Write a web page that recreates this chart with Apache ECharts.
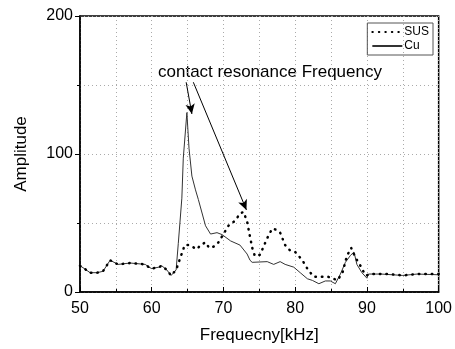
<!DOCTYPE html>
<html>
<head>
<meta charset="utf-8">
<script src="https://cdn.jsdelivr.net/npm/echarts@6/dist/echarts.min.js"></script>
<style>
  html, body { margin: 0; padding: 0; background: #fff; }
  #chart { width: 455px; height: 349px; }
</style>
</head>
<body>
<div id="chart"></div>
<script>
// Cu (solid)
const cuFreq = [50, 50.6, 51.4, 52.4, 53.2, 54.2, 55.3, 57, 59.1, 59.6, 60, 61, 61.4, 62.1, 62.7, 63.4, 63.7, 64.2, 64.4, 64.9, 65.2, 65.6, 66.1, 66.5, 67.5, 68.2, 69.1, 69.8, 71, 72.3, 73.3, 73.7, 74, 76.1, 77, 77.9, 78.6, 79.8, 80.7, 81.7, 82.4, 83.3, 84.2, 84.9, 85.6, 86.3, 87, 87.7, 88.2, 88.6, 89.3, 90, 90.2, 92, 95, 97, 100];
const cuAmp  = [19, 17, 14, 14, 15, 23, 20, 21, 20, 18, 17, 18, 19, 16, 12, 16, 35, 68, 97, 130, 104, 84, 74, 67, 48, 42, 43, 41.6, 37, 34, 27.5, 23, 21.5, 22, 20, 22, 20, 18, 14, 9.6, 8.4, 6, 8, 8, 6, 13, 21.5, 26.5, 29, 20, 14, 10, 13, 13, 12, 13, 12.5];

// SUS (dotted)
const susFreq = [50, 50.6, 51.4, 52.4, 53.2, 54.2, 55.3, 57, 59.1, 59.6, 60, 61, 61.4, 62.1, 62.7, 63.4, 63.8, 64.2, 64.6, 65.2, 65.6, 66.3, 66.8, 67.5, 68, 68.7, 69.3, 70, 70.7, 71.7, 72.3, 72.8, 73.3, 73.7, 74.1, 74.4, 75.1, 76.1, 76.8, 77.4, 77.9, 78.6, 79.3, 80, 81, 81.8, 82.6, 83.5, 84.6, 85.9, 86.6, 87.2, 87.8, 88.4, 89.1, 89.8, 90.8, 93, 95, 97, 100];
const susAmp  = [19, 17, 14, 14, 15, 23, 20, 21, 20, 18, 17, 18, 19, 16, 12, 16, 22, 28, 34, 34, 33, 31, 34, 36, 32, 33, 36, 42, 48, 52, 57, 58, 51, 40, 30, 26, 27, 39, 46, 45, 43, 34, 30, 29, 23, 16, 11, 11, 11, 8.5, 14, 26, 32, 25, 19, 12, 13, 13, 12, 13, 13];

const seriesNames = ['SUS', 'Cu'];
const xTicks = [50, 60, 70, 80, 90, 100];
const yTicks = [0, 100, 200];
const annotationText = 'contact resonance Frequency';
// arrows: [start, end] in data coordinates
const arrowCu  = [[64.8, 152], [65.6, 129]];
const arrowSus = [[65.8, 152], [73.2, 59.5]];

const font = '"Liberation Sans", Arial, sans-serif';
const chart = echarts.init(document.getElementById('chart'));

function pairs(xs, ys) {
  return xs.map((x, i) => [x, ys[i]]);
}

const gridLine = { show: true, lineStyle: { color: '#aaa', type: [1, 3], width: 1 } };

chart.setOption({
  animation: false,
  backgroundColor: '#fff',
  grid: { left: 80, right: 16, top: 16, bottom: 54, show: true, borderColor: '#000', borderWidth: 1.5, backgroundColor: 'transparent' },
  legend: {
    data: seriesNames,
    orient: 'vertical',
    right: 22,
    top: 23,
    borderColor: '#555',
    borderWidth: 1,
    padding: [3, 4, 3, 4],
    itemGap: 2,
    itemWidth: 30,
    itemHeight: 10,
    itemStyle: { opacity: 0 },
    textStyle: { fontFamily: font, fontSize: 12, color: '#000', padding: [0, 0, 0, -3] }
  },
  xAxis: {
    type: 'value',
    min: 50, max: 100, interval: 10,
    name: 'Frequecny[kHz]',
    nameLocation: 'middle',
    nameGap: 35,
    nameTextStyle: { fontFamily: font, fontSize: 17, color: '#000' },
    axisLine: { show: true, onZero: false, lineStyle: { color: '#000', width: 1.5 } },
    axisTick: { show: true, inside: true, length: 5, lineStyle: { color: '#000' } },
    minorTick: { show: true, splitNumber: 2, length: 3, lineStyle: { color: '#000' } },
    axisLabel: { fontFamily: font, fontSize: 16, color: '#000', margin: 9,
      formatter: v => xTicks.includes(v) ? String(v) : '' },
    splitLine: gridLine,
    minorSplitLine: gridLine
  },
  yAxis: {
    type: 'value',
    min: 0, max: 200, interval: 100,
    name: 'Amplitude',
    nameLocation: 'middle',
    nameGap: 50,
    nameTextStyle: { fontFamily: font, fontSize: 17, color: '#000' },
    axisLine: { show: true, lineStyle: { color: '#000', width: 1.5 } },
    axisTick: { show: true, inside: false, length: 5, lineStyle: { color: '#000' } },
    minorTick: { show: true, splitNumber: 2, length: 3, lineStyle: { color: '#000' } },
    axisLabel: { fontFamily: font, fontSize: 16, color: '#000', margin: 7,
      formatter: v => yTicks.includes(v) ? String(v) : '' },
    splitLine: gridLine,
    minorSplitLine: gridLine
  },
  graphic: [{
    type: 'text',
    left: 158,
    top: 64,
    style: { text: annotationText, font: '17px ' + font, fill: '#000' }
  }],
  series: [
    {
      name: 'SUS',
      type: 'line',
      symbol: 'none',
      data: pairs(susFreq, susAmp),
      lineStyle: { color: '#000', width: 2.5, type: [0.5, 6], cap: 'round' },
      itemStyle: { color: '#000' },
      z: 3
    },
    {
      name: 'Cu',
      type: 'line',
      symbol: 'none',
      data: pairs(cuFreq, cuAmp),
      lineStyle: { color: '#333', width: 1 },
      itemStyle: { color: '#333' },
      z: 2,
      markLine: {
        silent: true,
        symbol: ['none', 'arrow'],
        symbolSize: [7, 10],
        label: { show: false },
        lineStyle: { color: '#000', width: 1, type: 'solid' },
        data: [
          [{ coord: arrowCu[0] }, { coord: arrowCu[1] }],
          [{ coord: arrowSus[0] }, { coord: arrowSus[1] }]
        ]
      }
    }
  ]
});
</script>
</body>
</html>
